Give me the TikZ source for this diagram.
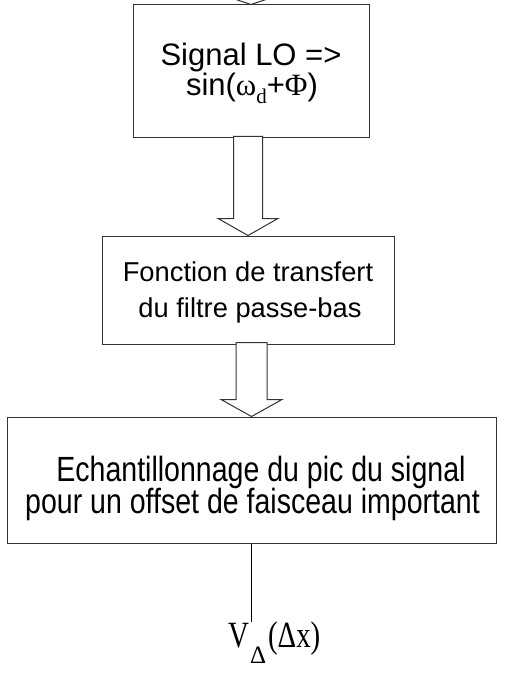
\documentclass[tikz,border=0pt]{standalone}
\usepackage{fontspec}
\setmainfont{Liberation Sans}
\newfontfamily\serifgr{Liberation Serif}
\newfontfamily\condsans[FakeStretch=0.815]{Liberation Sans}
\newfontfamily\condserif[FakeStretch=0.78]{Liberation Serif}
\usetikzlibrary{calc}

% one line of text centred at horizontal offset #1 from the node centre
\newcommand\ctrline[2]{\hbox to 0pt{\kern#1\hbox to 0pt{\hss#2\hss}\hss}}
% two stacked lines; the box baseline is the baseline of the second line
\newcommand\twolines[3]{%
  \vbox{\baselineskip=#1\lineskiplimit=-100pt #2#3}}

% hollow block arrow from #1 (its y) down to the top of node #2
% #3 head half-width, #4 head length, #5 shaft half-width
\newcommand\flowarrow[5]{%
  \draw[blockarrow] let \p1=(#2.north), \p2=(#1) in
    (\x1-#5,\y2+2pt) -- (\x1-#5,\y1+#4) -- (\x1-#3,\y1+#4) -- (\p1)
    -- (\x1+#3,\y1+#4) -- (\x1+#5,\y1+#4) -- (\x1+#5,\y2+2pt) -- cycle;}

\tikzset{
  stage/.style={draw=black!80, line width=1pt, rectangle, inner sep=0pt,
    text depth=0pt, fill=white},
  blockarrow/.style={draw=black!80, line width=1pt, fill=white, line join=miter},
  wire/.style={draw=black, line width=1pt},
}

\begin{document}
\begin{tikzpicture}[x=1pt, y=-1pt]
  \useasboundingbox (0,0) rectangle (506,676);
  \fill[white] (0,0) rectangle (506,676);

  % processing stages
  \node[stage, minimum width=236pt, minimum height=133pt, text height=49pt,
        font=\fontsize{31}{30}\selectfont] (lo) at (251,71.5)
    {\twolines{30pt}{\ctrline{0pt}{Signal LO =>}}%
      {\ctrline{1pt}{sin(\serifgr ω\raisebox{-8pt}{\fontsize{21}{21}\selectfont d}\normalfont+\serifgr Φ\normalfont)}}};

  \node[stage, minimum width=292pt, minimum height=108pt, text height=54pt,
        font=\fontsize{27.3}{36}\selectfont] (lpf) at (248,290)
    {\twolines{36pt}{\ctrline{0pt}{Fonction de transfert}}{\ctrline{2pt}{du filtre passe-bas}}};

  \node[stage, minimum width=489pt, minimum height=126pt, text height=66pt,
        font=\condsans\fontsize{35}{32}\selectfont] (samp) at (251.5,480)
    {\twolines{32pt}{\ctrline{9.5pt}{Echantillonnage du pic du signal}}%
      {\ctrline{1pt}{pour un offset de faisceau important}}};

  % output signal
  \node[anchor=base west, inner sep=0pt] (vout) at (228,647)
    {\condserif\fontsize{37}{37}\selectfont V\kern1pt\raisebox{-16pt}{\serifgr\fontsize{25}{25}\selectfont Δ}\kern2pt(Δx)};
  \coordinate (vend) at (251.5,622);

  % connectors
  \coordinate (feed) at (250,-40);
  \begin{scope}
    \clip (0,0) rectangle (506,676);
    \flowarrow{feed}{lo}{30pt}{10pt}{15pt}
  \end{scope}
  \flowarrow{lo.south}{lpf}{30pt}{17pt}{14.5pt}
  \flowarrow{lpf.south}{samp}{30.5pt}{17pt}{15.5pt}
  \draw[wire] (samp.south) -- (vend);
\end{tikzpicture}
\end{document}
